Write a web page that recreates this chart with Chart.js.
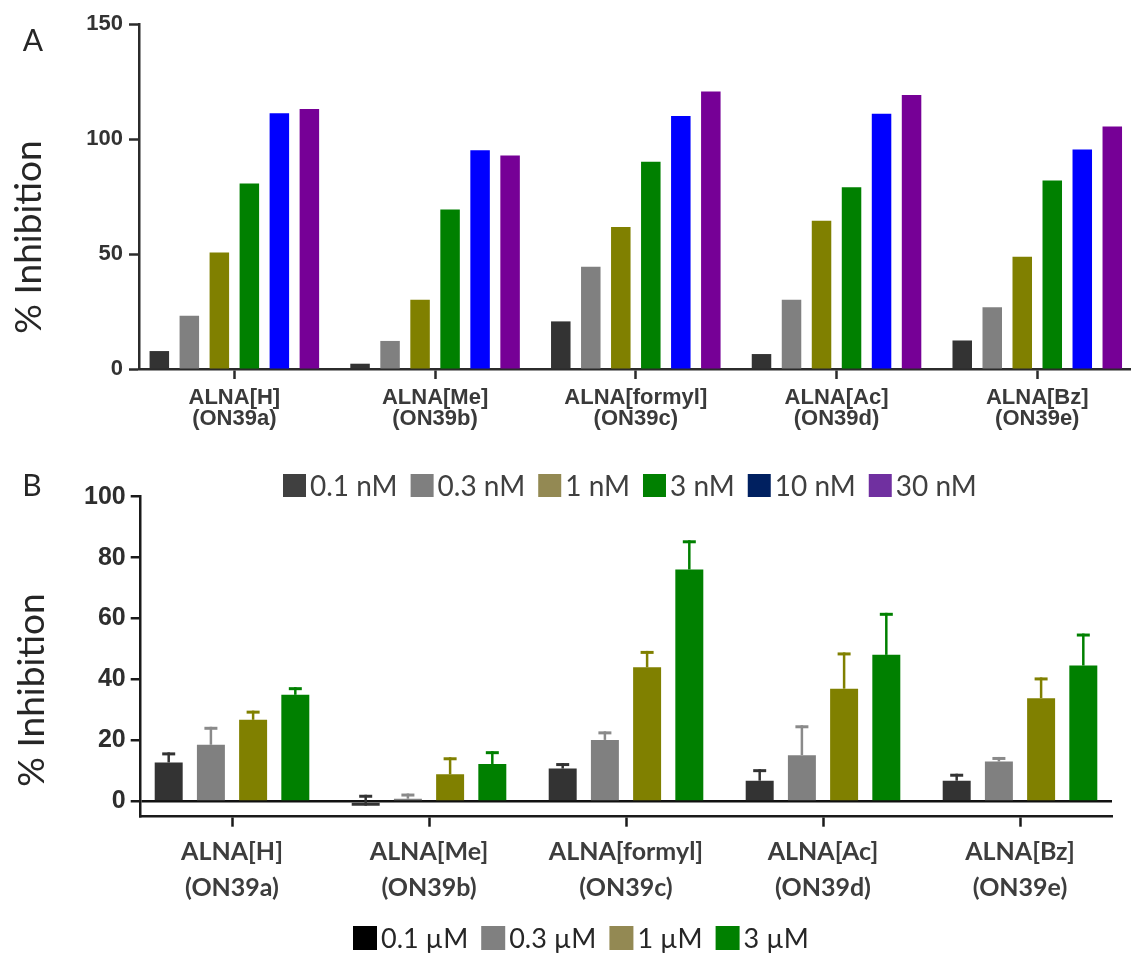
<!DOCTYPE html>
<html>
<head>
<meta charset="utf-8">
<script src="https://cdn.jsdelivr.net/npm/chart.js@4.4.1/dist/chart.umd.min.js"></script>
<style>
  html, body { margin: 0; padding: 0; background: #ffffff; overflow: hidden; }
  #page { position: relative; width: 1131px; height: 953px; }
  #boxA { position: absolute; left: 0; top: 0; width: 1131px; height: 510px; }
  #boxB { position: absolute; left: 0; top: 465px; width: 1131px; height: 488px; }
</style>
</head>
<body>
<div id="page">
  <div id="boxA"><canvas id="chartA"></canvas></div>
  <div id="boxB"><canvas id="chartB"></canvas></div>
</div>
<script>
// Compounds on the x axis (two-line labels)
const groupLabels = [
  ["ALNA[H]", "(ON39a)"],
  ["ALNA[Me]", "(ON39b)"],
  ["ALNA[formyl]", "(ON39c)"],
  ["ALNA[Ac]", "(ON39d)"],
  ["ALNA[Bz]", "(ON39e)"]
];

// Panel A: % inhibition at nM concentrations
const seriesA = ["0.1 nM", "0.3 nM", "1 nM", "3 nM", "10 nM", "30 nM"];
const a_01 = [7.8, 2.3, 20.7, 6.5, 12.4];
const a_03 = [23.2, 12.2, 44.5, 30.1, 26.8];
const a_1 = [50.7, 30.1, 61.7, 64.5, 48.8];
const a_3 = [80.6, 69.4, 90.1, 79.0, 82.0];
const a_10 = [111.2, 95.1, 110.0, 111.0, 95.4];
const a_30 = [113.0, 92.8, 120.6, 119.1, 105.4];
const yTicksA = [0, 50, 100, 150];

// Panel B: % inhibition at µM concentrations, with SD
const seriesB = ["0.1 µM", "0.3 µM", "1 µM", "3 µM"];
const b_01 = [12.8, -1.4, 10.8, 6.8, 6.8];
const b_03 = [18.6, 0.9, 20.2, 15.2, 13.1];
const b_1 = [26.8, 8.9, 44.0, 37.0, 33.9];
const b_3 = [35.0, 12.3, 76.1, 48.1, 44.6];
const sd_01 = [3.3, 3.6, 1.8, 3.8, 2.3];
const sd_03 = [5.9, 1.7, 2.8, 9.8, 1.5];
const sd_1 = [3.0, 5.6, 5.4, 11.9, 6.8];
const sd_3 = [2.5, 4.2, 9.6, 13.8, 10.5];
const yTicksB = [0, 20, 40, 60, 80, 100];

// Styling
const barColorsA = ["#333333", "#808080", "#808000", "#008000", "#0000ff", "#760096"];
const keyColorsA = ["#404040", "#7f7f7f", "#938953", "#008000", "#002060", "#7030a0"];
const barColorsB = ["#333333", "#808080", "#808000", "#008000"];
const errColorsB = ["#333333", "#8a8a8a", "#808000", "#008000"];
const keyColorsB = ["#000000", "#808080", "#938953", "#008000"];

const points = arr => arr.map((v, i) => ({ x: i, y: v }));

// Row of square keys with labels, drawn from the dataset labels
const squareLegend = {
  id: "squareLegend",
  afterDraw(chart, _args, o) {
    if (!o || !o.colors) return;
    const ctx = chart.ctx;
    ctx.save();
    ctx.font = o.font;
    ctx.textBaseline = "middle";
    ctx.textAlign = "left";
    let x = o.startX;
    chart.data.datasets.forEach((ds, i) => {
      ctx.fillStyle = o.colors[i];
      ctx.fillRect(x, o.centerY - o.box / 2, o.box, o.box);
      x += o.box + o.gap;
      ctx.fillStyle = o.textColor;
      ctx.fillText(ds.label, x, o.centerY + o.textShift);
      x += ctx.measureText(ds.label).width + o.spacing;
    });
    ctx.restore();
  }
};

// Panel letter and rotated axis caption
const panelText = {
  id: "panelText",
  afterDraw(chart, _args, o) {
    if (!o || !o.letter) return;
    const ctx = chart.ctx;
    ctx.save();
    ctx.fillStyle = o.color;
    ctx.textAlign = "center";
    ctx.textBaseline = "middle";
    ctx.font = o.letterFont;
    ctx.fillText(o.letter, o.letterX, o.letterY);
    ctx.translate(o.titleX, o.titleY);
    ctx.rotate(-Math.PI / 2);
    ctx.font = o.titleFont;
    ctx.fillText(o.title, 0, 0);
    ctx.restore();
  }
};

// Upper error bars (value + SD) with a cap
const errorBars = {
  id: "errorBars",
  afterDatasetsDraw(chart, _args, o) {
    const ctx = chart.ctx;
    const yScale = chart.scales.y;
    chart.data.datasets.forEach((ds, di) => {
      if (!ds.errors) return;
      const meta = chart.getDatasetMeta(di);
      meta.data.forEach((bar, i) => {
        const v = ds.data[i].y;
        const top = yScale.getPixelForValue(v + ds.errors[i]);
        ctx.save();
        ctx.strokeStyle = ds.errorColor;
        ctx.lineWidth = o.lineWidth;
        ctx.beginPath();
        ctx.moveTo(bar.x, bar.y);
        ctx.lineTo(bar.x, top);
        ctx.stroke();
        ctx.lineWidth = o.capWidth;
        ctx.beginPath();
        ctx.moveTo(bar.x - o.cap / 2, top + o.capWidth / 2);
        ctx.lineTo(bar.x + o.cap / 2, top + o.capWidth / 2);
        ctx.stroke();
        ctx.restore();
      });
    });
  }
};

Chart.register(squareLegend, panelText, errorBars);

const axisInk = "#2b2b2b";

// ---------- Panel A ----------
const valuesA = [a_01, a_03, a_1, a_3, a_10, a_30];
new Chart(document.getElementById("chartA"), {
  type: "bar",
  data: {
    datasets: seriesA.map((name, i) => ({
      label: name,
      data: points(valuesA[i]),
      backgroundColor: barColorsA[i],
      borderWidth: 0
    }))
  },
  options: {
    responsive: true,
    maintainAspectRatio: false,
    animation: false,
    events: [],
    layout: { padding: { top: 24, right: 0, bottom: 0, left: 0 } },
    datasets: { bar: { categoryPercentage: 0.897, barPercentage: 0.65 } },
    scales: {
      x: {
        type: "linear",
        offset: false,
        min: -0.475,
        max: 4.467,
        afterFit: s => { s.height = 141; },
        afterBuildTicks: s => { s.ticks = groupLabels.map((_, i) => ({ value: i })); },
        border: { display: true, color: axisInk, width: 2.5 },
        grid: { display: true, offset: false, drawOnChartArea: false, drawTicks: true, tickLength: 10, tickWidth: 2.5, tickColor: axisInk },
        ticks: {
          autoSkip: false, maxRotation: 0, padding: 8, color: "#3a3a3a",
          font: { family: "Liberation Sans", weight: "bold", size: 22, lineHeight: "21px" },
          callback: v => groupLabels[v]
        }
      },
      y: {
        min: 0,
        max: 150,
        afterFit: s => { s.width = 139; },
        afterBuildTicks: s => { s.ticks = yTicksA.map(v => ({ value: v })); },
        border: { display: true, color: axisInk, width: 2.5 },
        grid: { display: true, drawOnChartArea: false, drawTicks: true, tickLength: 10, tickWidth: 2.5, tickColor: axisInk },
        ticks: {
          padding: 6, color: "#333333",
          font: { family: "Liberation Sans", weight: "bold", size: 22 }
        }
      }
    },
    plugins: {
      legend: { display: false },
      tooltip: { enabled: false },
      squareLegend: {
        colors: keyColorsA, startX: 283, centerY: 485.5, box: 23, gap: 4, spacing: 13,
        font: "28px Lato", textColor: "#404040", textShift: 1
      },
      panelText: {
        letter: "A", letterX: 33, letterY: 41, letterFont: "30px Lato",
        title: "% Inhibition", titleX: 29, titleY: 237, titleFont: "37px Lato", color: "#262626"
      }
    }
  }
});

// ---------- Panel B ----------
const valuesB = [b_01, b_03, b_1, b_3];
const errorsB = [sd_01, sd_03, sd_1, sd_3];
new Chart(document.getElementById("chartB"), {
  type: "bar",
  data: {
    datasets: seriesB.map((name, i) => ({
      label: name,
      data: points(valuesB[i]),
      errors: errorsB[i],
      errorColor: errColorsB[i],
      backgroundColor: barColorsB[i],
      borderWidth: 0
    }))
  },
  options: {
    responsive: true,
    maintainAspectRatio: false,
    animation: false,
    events: [],
    layout: { padding: { top: 31.7, right: 19, bottom: 0, left: 0 } },
    datasets: { bar: { categoryPercentage: 0.857, barPercentage: 0.663 } },
    scales: {
      x: {
        type: "linear",
        offset: false,
        min: -0.4635,
        max: 4.467,
        afterFit: s => { s.height = 136.3; },
        afterBuildTicks: s => { s.ticks = groupLabels.map((_, i) => ({ value: i })); },
        border: { display: true, color: "#1a1a1a", width: 2.5 },
        grid: { display: true, offset: false, drawOnChartArea: false, drawTicks: true, tickLength: 10, tickWidth: 2.5, tickColor: "#1a1a1a" },
        ticks: {
          autoSkip: false, maxRotation: 0, padding: 7, color: "#3d3d3d",
          font: { family: "Lato", weight: "bold", size: 25, lineHeight: "36px" },
          callback: v => groupLabels[v]
        }
      },
      y: {
        min: -5,
        max: 100,
        afterFit: s => { s.width = 140.7; },
        afterBuildTicks: s => { s.ticks = yTicksB.map(v => ({ value: v })); },
        border: { display: true, color: "#1a1a1a", width: 2.5 },
        grid: {
          display: true, drawOnChartArea: true, drawTicks: true,
          color: c => (c.tick && c.tick.value === 0 ? "#111111" : "rgba(0,0,0,0)"),
          lineWidth: 2.5, tickLength: 10, tickWidth: 2.5, tickColor: "#1a1a1a"
        },
        ticks: {
          padding: 5, color: "#2e2e2e",
          font: { family: "Liberation Sans", weight: "bold", size: 25 }
        }
      }
    },
    plugins: {
      legend: { display: false },
      tooltip: { enabled: false },
      errorBars: { lineWidth: 2.5, capWidth: 3, cap: 13 },
      squareLegend: {
        colors: keyColorsB, startX: 353, centerY: 473, box: 24, gap: 4, spacing: 13,
        font: "27px Lato", textColor: "#262626", textShift: 1
      },
      panelText: {
        letter: "B", letterX: 32, letterY: 21, letterFont: "30px Lato",
        title: "% Inhibition", titleX: 32, titleY: 225, titleFont: "37px Lato", color: "#262626"
      }
    }
  }
});
</script>
</body>
</html>
